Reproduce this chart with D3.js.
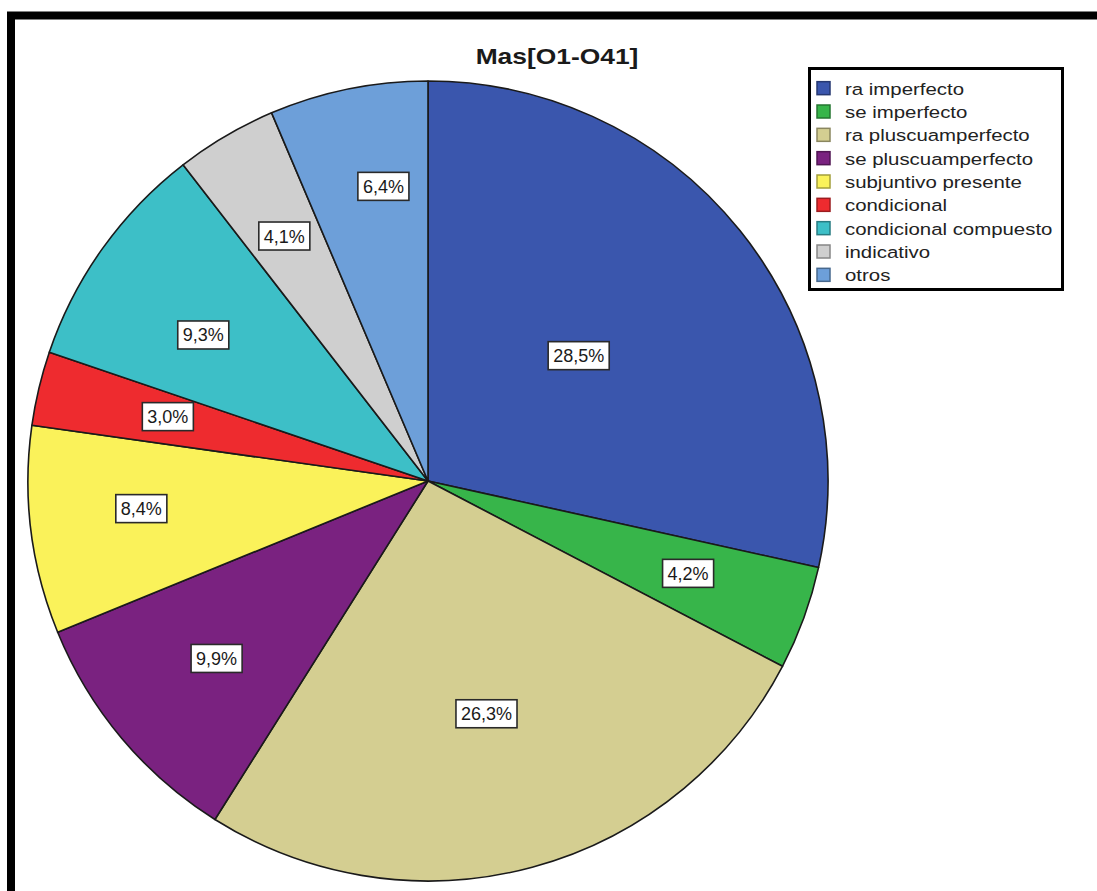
<!DOCTYPE html>
<html>
<head>
<meta charset="utf-8">
<script src="https://cdn.jsdelivr.net/npm/d3@7/dist/d3.min.js"></script>
<style>
  html, body { margin: 0; padding: 0; background: #ffffff; }
  svg { display: block; }
</style>
</head>
<body>
<svg id="chart" width="1097" height="891"></svg>
<script>
// Categories, clockwise from 12 o'clock
const categories = [
  "ra imperfecto", "se imperfecto", "ra pluscuamperfecto", "se pluscuamperfecto",
  "subjuntivo presente", "condicional", "condicional compuesto", "indicativo", "otros"
];
// Share of each category, in percent
const percents = [28.5, 4.2, 26.3, 9.9, 8.4, 3.0, 9.3, 4.1, 6.4];
// Slice colours
const colors = [
  "#3a56ad", "#37b54a", "#d4ce91", "#7a2280", "#faf25a",
  "#ee2b2f", "#3dbfc7", "#cfcfcf", "#6d9fd9"
];
const title = "Mas[O1-O41]";

// Layout
const W = 1097, H = 891;
const cx = 428, cy = 481, R = 400;
// Radial position of each percent label, as a fraction of the radius
const labelRadius = [0.49, 0.69, 0.60, 0.69, 0.72, 0.67, 0.67, 0.71, 0.745];
// Small angular nudge of each label off its slice bisector, in degrees
const labelNudge = [-1, -0.5, 1, 0, 1.6, 0.5, -2.5, 0, 2.9];
// Text in this chart is drawn slightly wide
const stretchX = 1.2;

const svg = d3.select("#chart");

// Outer frame (top and left edges visible)
svg.append("rect").attr("x", 0).attr("y", 0).attr("width", W).attr("height", H).attr("fill", "#ffffff");
svg.append("path")
  .attr("d", `M11,${H + 10} V15.5 H${W + 10}`)
  .attr("fill", "none").attr("stroke", "#000").attr("stroke-width", 8);

const fmt = v => d3.format(".1f")(v).replace(".", ",") + "%";

const data = categories.map((c, i) => ({ name: c, value: percents[i], color: colors[i], i }));

const pie = d3.pie().value(d => d.value).sort(null).startAngle(0).endAngle(2 * Math.PI);
const arcs = pie(data);
const arc = d3.arc().innerRadius(0).outerRadius(R);

const g = svg.append("g").attr("transform", `translate(${cx},${cy})`);

g.selectAll("path.slice").data(arcs).join("path")
  .attr("class", "slice")
  .attr("d", arc)
  .attr("fill", d => d.data.color)
  .attr("stroke", "#1a1a1a")
  .attr("stroke-width", 1.6)
  .attr("stroke-linejoin", "round");

// Percent labels in white boxes
const labels = g.selectAll("g.lbl").data(arcs).join("g").attr("class", "lbl")
  .attr("transform", d => {
    const a = (d.startAngle + d.endAngle) / 2 + labelNudge[d.data.i] * Math.PI / 180;
    const r = R * labelRadius[d.data.i];
    return `translate(${r * Math.sin(a)},${-r * Math.cos(a)})`;
  });

labels.append("text")
  .attr("text-anchor", "middle")
  .attr("dy", "0.36em")
  .attr("font-family", "Arial, 'Liberation Sans', sans-serif")
  .attr("font-size", 18)
  .attr("fill", "#1a1a1a")
  .text(d => fmt(d.data.value));

labels.each(function () {
  const gEl = d3.select(this);
  const bb = gEl.select("text").node().getBBox();
  gEl.insert("rect", "text")
    .attr("x", bb.x - 5).attr("y", -14)
    .attr("width", bb.width + 10).attr("height", 28)
    .attr("fill", "#ffffff").attr("stroke", "#2a2a2a").attr("stroke-width", 1.6);
});

// Title
svg.append("text")
  .attr("transform", `translate(557,64) scale(${stretchX},1)`)
  .attr("text-anchor", "middle")
  .attr("font-family", "Arial, 'Liberation Sans', sans-serif")
  .attr("font-weight", "bold")
  .attr("font-size", 22)
  .attr("fill", "#1a1a1a")
  .text(title);

// Legend
const lg = svg.append("g");
lg.append("rect")
  .attr("x", 809.5).attr("y", 68.5).attr("width", 253).attr("height", 221)
  .attr("fill", "#ffffff").attr("stroke", "#000").attr("stroke-width", 3);

const rowY = d3.scaleBand().domain(categories).range([77, 287]).paddingInner(0);
const items = lg.selectAll("g.item").data(data).join("g").attr("class", "item")
  .attr("transform", d => `translate(0,${rowY(d.name) + rowY.bandwidth() / 2})`);

items.append("rect")
  .attr("x", 817).attr("y", -7).attr("width", 13).attr("height", 13)
  .attr("fill", d => d.color)
  .attr("stroke", d => d3.color(d.color).darker(1.2))
  .attr("stroke-width", 1.5);

items.append("text")
  .attr("transform", `translate(845,0) scale(${stretchX},1)`)
  .attr("dy", "0.35em")
  .attr("font-family", "Arial, 'Liberation Sans', sans-serif")
  .attr("font-size", 17)
  .attr("fill", "#222")
  .text(d => d.name);
</script>
</body>
</html>
